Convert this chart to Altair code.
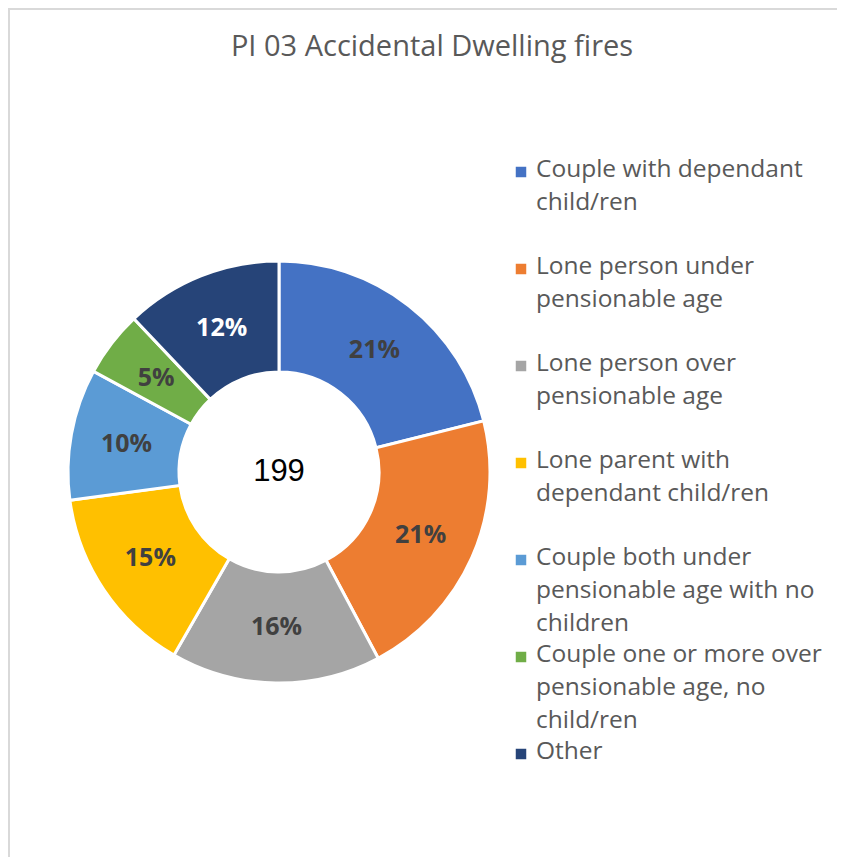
import altair as alt
import pandas as pd

categories = [
    "Couple with dependant child/ren",
    "Lone person under pensionable age",
    "Lone person over pensionable age",
    "Lone parent with dependant child/ren",
    "Couple both under pensionable age with no children",
    "Couple one or more over pensionable age, no child/ren",
    "Other",
]
counts = [42, 42, 32, 29, 20, 10, 24]
legend_labels = [
    "Couple with dependant\nchild/ren",
    "Lone person under\npensionable age",
    "Lone person over\npensionable age",
    "Lone parent with\ndependant child/ren",
    "Couple both under\npensionable age with no\nchildren",
    "Couple one or more over\npensionable age, no\nchild/ren",
    "Other",
]
colors = ["#4472C4", "#ED7D31", "#A5A5A5", "#FFC000", "#5B9BD5", "#70AD47", "#264478"]
title_text = "PI 03 Accidental Dwelling fires"

total = sum(counts)
df = pd.DataFrame({
    "category": categories,
    "count": counts,
    "order": list(range(len(categories))),
    "pct": [f"{round(c / total * 100)}%" for c in counts],
    "legend": legend_labels,
})

CX, CY = 271, 464
color_scale = alt.Scale(domain=categories, range=colors)
base = alt.Chart(df)

arcs = base.mark_arc(outerRadius=211, innerRadius=100, stroke="white", strokeWidth=3).encode(
    theta=alt.Theta("count:Q", stack=True),
    order=alt.Order("order:Q"),
    color=alt.Color("category:N", scale=color_scale, legend=None),
    x=alt.value(CX), y=alt.value(CY),
)

pct_labels = base.mark_text(radius=155, font="Open Sans", fontWeight="bold", fontSize=25).encode(
    theta=alt.Theta("count:Q", stack=True),
    order=alt.Order("order:Q"),
    text="pct:N",
    color=alt.condition(alt.datum.category == "Other", alt.value("white"), alt.value("#404040")),
    x=alt.value(CX), y=alt.value(CY),
)

center = alt.Chart(pd.DataFrame({"total": [total]})).mark_text(
    font="Liberation Sans", fontSize=31, color="black"
).encode(text="total:Q", x=alt.value(CX), y=alt.value(CY))

title = alt.Chart(pd.DataFrame({"t": [title_text]})).mark_text(
    font="Open Sans", fontSize=29, color="#595959", baseline="alphabetic"
).encode(text="t:N", x=alt.value(424), y=alt.value(48))

ypos = alt.Y("category:N", scale=alt.Scale(type="point", domain=categories, range=[164, 746], padding=0), axis=None)

leg_sq = base.mark_square(size=110, opacity=1).encode(
    y=ypos,
    x=alt.value(513),
    color=alt.Color("category:N", scale=color_scale, legend=None),
)

leg_txt = base.mark_text(
    align="left", baseline="top", dy=-14, lineBreak="\n", lineHeight=33,
    font="Open Sans", fontSize=24.5, color="#595959"
).encode(y=ypos, x=alt.value(528), text="legend:N")

border_top = alt.Chart(pd.DataFrame({"a": [0]})).mark_rule(color="#d9d9d9", strokeWidth=2).encode(
    x=alt.value(0), x2=alt.value(829), y=alt.value(1)
)
border_left = alt.Chart(pd.DataFrame({"a": [0]})).mark_rule(color="#d9d9d9", strokeWidth=2).encode(
    x=alt.value(1), y=alt.value(0), y2=alt.value(849)
)

chart = alt.layer(border_top, border_left, arcs, pct_labels, center, title, leg_sq, leg_txt).properties(
    width=829, height=849, padding=0, autosize="none"
).configure_view(stroke=None)

chart.save("out.html", embed_options={"renderer": "svg", "actions": False})
